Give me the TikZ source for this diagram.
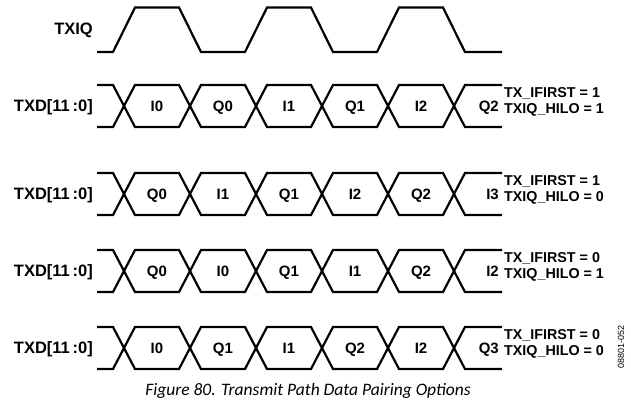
\documentclass[tikz,border=0pt]{standalone}
\usepackage{fontspec}
\setmainfont{Liberation Sans}
\newfontfamily\capfont{Carlito}
\usetikzlibrary{positioning}
\definecolor{wireink}{RGB}{0,0,0}
\tikzset{
  wave/.style={draw=wireink,line width=2.2pt,line join=miter},
  siglab/.style={font=\bfseries\fontsize{16.5}{16.5}\selectfont,
    anchor=east,inner sep=0pt,text depth=0pt},
  wordlab/.style={font=\bfseries\fontsize{15}{15}\selectfont,
    inner sep=0pt,text depth=0pt},
  modelab/.style={font=\bfseries\fontsize{14.3}{16}\selectfont,
    align=left,anchor=west,inner sep=0pt},
  caplab/.style={font=\capfont\itshape\fontsize{17.5}{18}\selectfont,inner sep=0pt},
  tinylab/.style={font=\fontsize{9}{9}\selectfont,rotate=90,inner sep=0pt}
}
% one data bus row: centre, five words, last word, mode text
\newcommand{\busrow}[5]{%
  \draw[wave] (97,#1-21) foreach \k in {0,...,5} {
      -- (113+66*\k,{#1-21*cos(180*\k)}) -- (135+66*\k,{#1+21*cos(180*\k)}) }
    -- (502,#1-21);
  \draw[wave] (97,#1+21) foreach \k in {0,...,5} {
      -- (113+66*\k,{#1+21*cos(180*\k)}) -- (135+66*\k,{#1-21*cos(180*\k)}) }
    -- (502,#1+21);
  \node[siglab] (txd-#1) at (93,#1) {TXD[11\,:0]};
  \foreach \w [count=\i from 0] in {#2}
    \node[wordlab] (w-#1-\i) at (157+66*\i,#1) {\w};
  \node[wordlab,anchor=east] (w-#1-last) at (499,#1) {#3};
  \node[modelab] (mode-#1) at (504,#1-4) {#4\\#5};
}

\begin{document}
\begin{tikzpicture}[x=1pt,y=-1pt]
  \useasboundingbox (0,0) rectangle (631,404);
  % TXIQ clock
  \draw[wave] (97,52) foreach \k in {0,...,5} {
      -- (113+66*\k,{29.75+22.25*cos(180*\k)}) -- (135+66*\k,{29.75-22.25*cos(180*\k)}) }
    -- (502,52);
  \node[siglab] (txiq) at (93,29) {TXIQ};
  % data rows
  \busrow{106}{I0,Q0,I1,Q1,I2}{Q2}{TX\_IFIRST = 1}{TXIQ\_HILO = 1}
  \busrow{194}{Q0,I1,Q1,I2,Q2}{I3}{TX\_IFIRST = 1}{TXIQ\_HILO = 0}
  \busrow{271}{Q0,I0,Q1,I1,Q2}{I2}{TX\_IFIRST = 0}{TXIQ\_HILO = 1}
  \busrow{348}{I0,Q1,I1,Q2,I2}{Q3}{TX\_IFIRST = 0}{TXIQ\_HILO = 0}
  \node[tinylab] (docid) at (621,347) {08801-052};
  \node[caplab] (caption) at (308,391) {Figure 80. Transmit Path Data Pairing Options};
\end{tikzpicture}
\end{document}
